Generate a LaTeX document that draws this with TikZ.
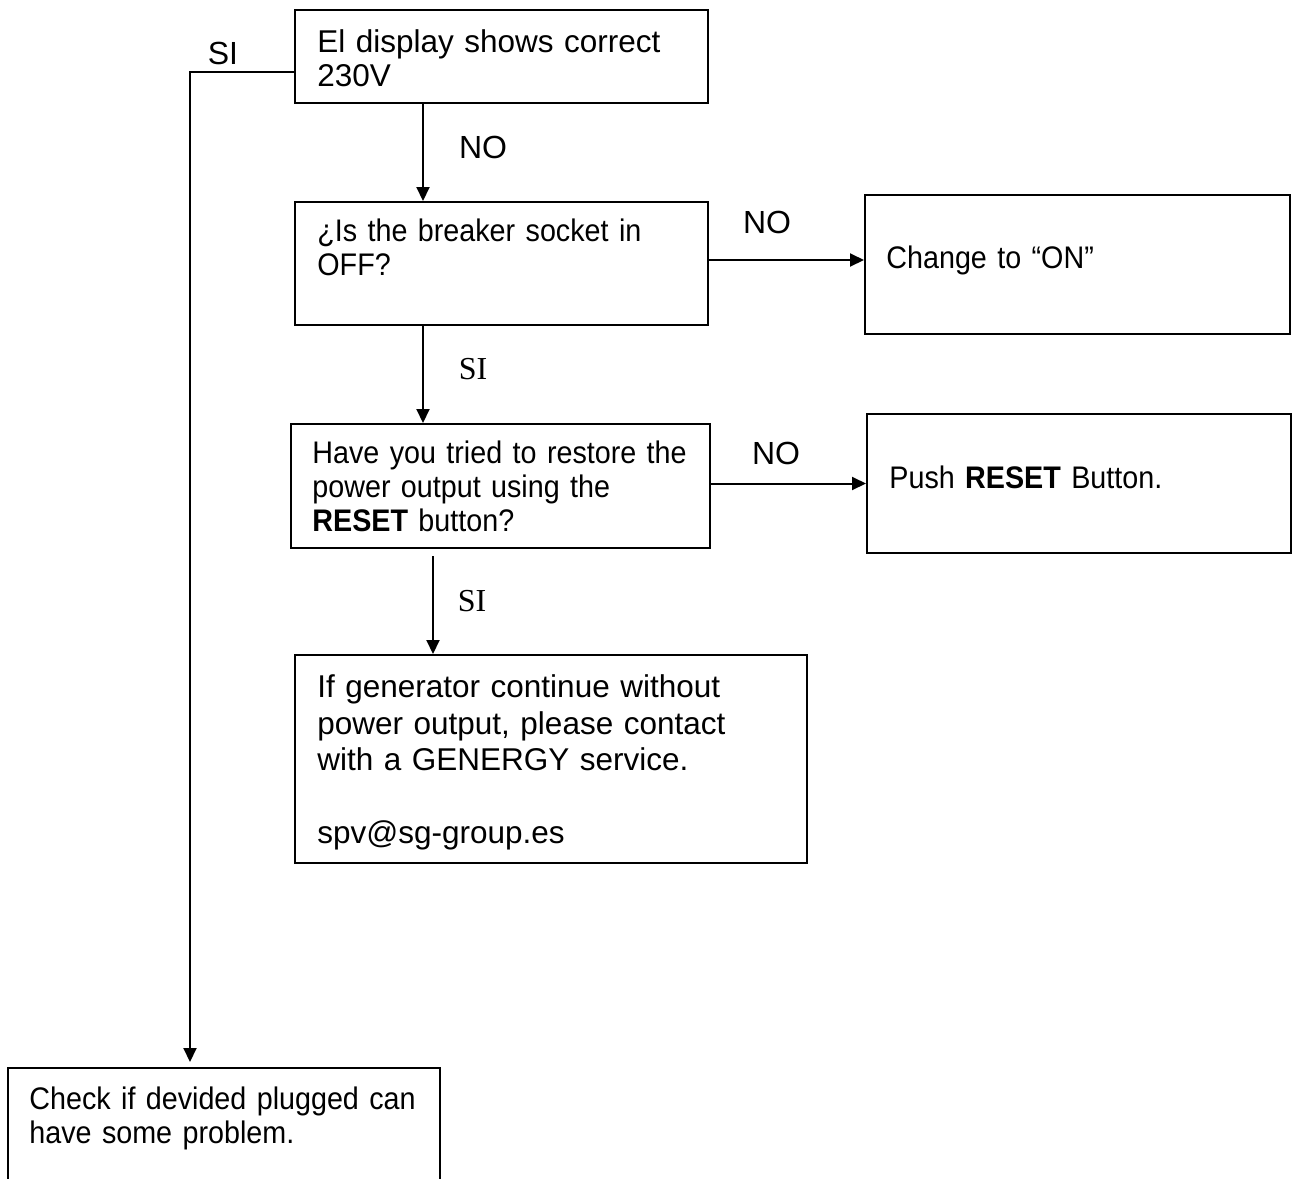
\documentclass[tikz,border=0pt]{standalone}
\usepackage{fontspec}
\setmainfont{Liberation Sans}
\newfontfamily\condfont[FakeStretch=0.92,WordSpace=0.8]{Liberation Sans}
\newfontfamily\siserif{Liberation Serif}
\usetikzlibrary{arrows.meta,calc}
\begin{document}
\begin{tikzpicture}[x=0.5pt,y=-0.5pt,
  box/.style={draw, line width=1pt, inner sep=0pt},
  txt/.style={anchor=base west, inner sep=0pt, text width=#1, align=left,
    font=\fontsize{15.75}{17.25}\selectfont},
  txt/.default=215pt,
  cond/.style={font=\condfont\fontsize{15.6}{17.1}\selectfont},
  lbl/.style={inner sep=0pt, font=\fontsize{16}{18}\selectfont},
  lblserif/.style={inner sep=0pt, font=\siserif\fontsize{16}{18}\selectfont},
  arr/.style={line width=1pt, -{Triangle[length=7pt,width=6.5pt]}},
  conn/.style={line width=1pt}]
\useasboundingbox (0,0) rectangle (1292,1179);
\clip (0,0) rectangle (1292,1179);

% boxes
\node[box, minimum width=206.5pt, minimum height=46.5pt] (b1) at (501.5,56.5) {};
\node[box, minimum width=206.5pt, minimum height=61.5pt] (b2) at (501.5,263.5) {};
\node[box, minimum width=212.5pt, minimum height=69.5pt] (b3) at (1077.5,264.5) {};
\node[box, minimum width=209.5pt, minimum height=62pt] (b4) at (500.5,486) {};
\node[box, minimum width=212pt, minimum height=69.5pt] (b5) at (1079,483.5) {};
\node[box, minimum width=256pt, minimum height=104pt] (b6) at (551,759) {};
\node[box, minimum width=216pt, minimum height=76pt] (b7) at (224,1144) {};

% texts
\node[txt] (t1) at (317,52) {El display shows correct\\230V};
\node[txt, cond] (t2) at (317,241.5) {¿Is the breaker socket in\\OFF?};
\node[txt, cond] (t3) at (886,268.5) {Change to “ON”};
\node[txt, cond] (t4) at (312,463.5) {Have you tried to restore the\\power output using the\\\textbf{RESET} button?};
\node[txt, cond] (t5) at (889,488.5) {Push \textbf{RESET} Button.};
\node[txt=240pt, font=\fontsize{15.75}{18.25}\selectfont] (t6) at (317,697.5)
  {If generator continue without\\power output, please contact\\with a GENERGY service.\\[18.25pt]spv@sg-group.es};
\node[txt, cond] (t7) at (29,1109.5) {Check if devided plugged can\\have some problem.};

% labels
\node[lbl] (l1) at (483,147) {NO};
\node[lblserif] (l2) at (473,369) {SI};
\node[lblserif] (l3) at (472,601) {SI};
\node[lbl] (l4) at (223,53) {SI};
\node[lbl] (l5) at (767,222) {NO};
\node[lbl] (l6) at (776,453) {NO};

% helper coordinates
\coordinate (xa) at (423,0);
\coordinate (xb) at (433,0);
\coordinate (xl) at (190,0);
\coordinate (ya) at (0,72);
\coordinate (yc) at (0,260);

% connectors
\draw[arr] (xa |- b1.south) -- (xa |- b2.north);
\draw[arr] (xa |- b2.south) -- (xa |- b4.north);
\draw[arr] ($(xb |- b4.south)+(0,7)$) -- (xb |- b6.north);
\draw[arr] (b2.east |- yc) -- (b3.west |- yc);
\draw[arr] (b4.east |- b5.west) -- (b5.west);
\draw[arr] (b1.west |- ya) -| ($(xl |- b7.north)+(0,-5)$);
\end{tikzpicture}
\end{document}
